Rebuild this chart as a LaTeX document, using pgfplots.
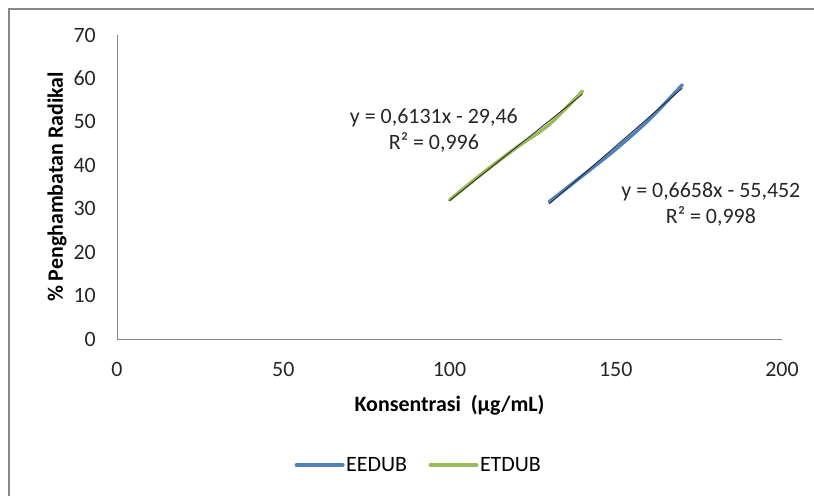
\documentclass[border=0pt]{standalone}
\usepackage{pgfplots}
\pgfplotsset{compat=1.18}
\usepackage{fontspec}
\setmainfont{Carlito}
\definecolor{xlblue}{HTML}{4F81BD}
\definecolor{xlgreen}{HTML}{9BBB59}
\definecolor{axgray}{HTML}{868686}
\newcommand{\cf}{\fontsize{22}{26}\selectfont}
\begin{document}
\begin{tikzpicture}
\useasboundingbox (-117bp,-157bp) rectangle (697bp,339bp);
\draw[color=axgray, line width=2.2bp] (-108bp,-170bp) -- (-108bp,330bp) -- (710bp,330bp);
\begin{axis}[
  scale only axis, width=665bp, height=304bp,
  at={(0,0)}, anchor=south west,
  xmin=0, xmax=200, ymin=0, ymax=70,
  xtick={0,50,100,150,200}, ytick={0,10,20,30,40,50,60,70},
  axis lines*=left,
  axis line style={draw=axgray, line width=0.9bp, -},
  major tick length=0pt, tick style={draw=none},
  clip=false,
  /pgf/number format/assume math mode=true,
  every tick label/.append style={font=\cf, text=black!85},
  yticklabel style={anchor=east, inner sep=0pt, xshift=-21bp},
  xticklabel style={anchor=north, inner sep=0pt, yshift=-23bp},
  xlabel={\textbf{Konsentrasi\ \ (µg/mL)}},
  ylabel={\textbf{\% Penghambatan Radikal}},
  xlabel style={at={(axis description cs:0.5,0)}, anchor=center, yshift=-66bp, font=\cf},
  ylabel style={at={(axis description cs:0,0.5)}, anchor=center, rotate=0, yshift=60bp, font=\cf},
  legend columns=2,
  legend cell align=left,
  legend style={draw=none, fill=none, at={(axis description cs:0.4534,-0.4145)}, anchor=center,
    inner sep=0pt, font=\cf, nodes={inner sep=1.5bp},
    /tikz/every even column/.append style={column sep=20bp}},
  legend image code/.code={\draw[#1, line width=4bp] (0bp,0bp) -- (46bp,0bp);},
]
\addplot[color=xlblue, line width=3.5bp, smooth, line cap=round] coordinates {
  (130,31.6) (140,37.6) (150,43.7) (160,50.5) (170,58.5)};
\addlegendentry{EEDUB}
\addplot[color=xlgreen, line width=3.5bp, smooth, line cap=round] coordinates {
  (100,32.0) (110,38.2) (120,44.0) (130,49.4) (140,57.1)};
\addlegendentry{ETDUB}
\addplot[forget plot, color=black!85, line width=0.8bp] coordinates {(130,31.102) (170,57.734)};
\addplot[forget plot, color=black!85, line width=0.8bp] coordinates {(100,31.85) (140,56.374)};
\node[align=center, font=\cf, text=black!85, inner sep=0pt] at (axis cs:95.3,48.1) {y = 0,6131x - 29,46\\R² = 0,996};
\node[align=center, font=\cf, text=black!85, inner sep=0pt] at (axis cs:178.6,30.9) {y = 0,6658x - 55,452\\R² = 0,998};
\end{axis}
\end{tikzpicture}
\end{document}
